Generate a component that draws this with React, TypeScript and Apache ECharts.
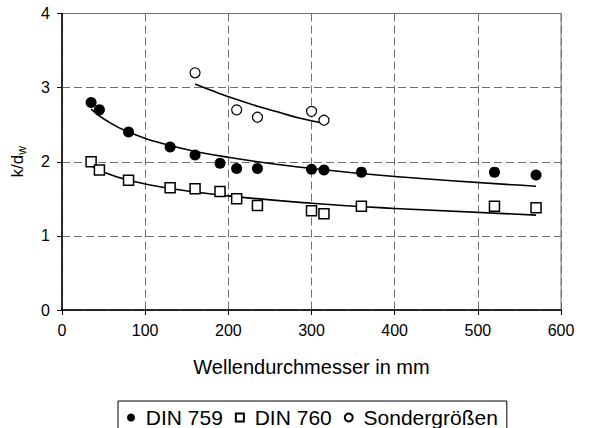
import React, { useEffect, useRef } from "react";
import * as echarts from "echarts";

// Measured points (diameter in mm -> k/d_w)
const din759X = [35, 45, 80, 130, 160, 190, 210, 235, 300, 315, 360, 520, 570];
const din759Y = [2.8, 2.7, 2.4, 2.2, 2.09, 1.98, 1.91, 1.91, 1.9, 1.89, 1.86, 1.86, 1.82];

const din760X = [35, 45, 80, 130, 160, 190, 210, 235, 300, 315, 360, 520, 570];
const din760Y = [2.0, 1.89, 1.75, 1.65, 1.635, 1.6, 1.5, 1.41, 1.34, 1.3, 1.4, 1.4, 1.38];

const sonderX = [160, 210, 235, 300, 315];
const sonderY = [3.2, 2.7, 2.6, 2.68, 2.56];

// Trend lines
const trend759X = [35, 50, 80, 130, 200, 300, 400, 570];
const trend759Y = [2.71, 2.58, 2.4, 2.22, 2.06, 1.91, 1.8, 1.67];

const trend760X = [35, 50, 80, 130, 200, 300, 400, 570];
const trend760Y = [1.95, 1.86, 1.75, 1.64, 1.54, 1.44, 1.37, 1.28];

const trendSonderX = [160, 185, 210, 235, 260, 285, 315];
const trendSonderY = [3.05, 2.94, 2.84, 2.75, 2.67, 2.59, 2.52];

const seriesNames = ["DIN 759", "DIN 760", "Sondergrößen"];
const xAxisTitle = "Wellendurchmesser in mm";

const zip = (xs: number[], ys: number[]) => xs.map((x, i) => [x, ys[i]]);

const FONT = "Liberation Sans, Arial, sans-serif";

export default function App() {
  const ref = useRef<HTMLDivElement>(null);
  useEffect(() => {
    if (!ref.current) return;
    const chart = echarts.init(ref.current, undefined, { renderer: "svg" });
    const gridColor = "#707070";
    const trendStyle = { color: "#000", width: 1.6 };
    chart.setOption({
      animation: false,
      backgroundColor: "#ffffff",
      textStyle: { fontFamily: FONT },
      grid: {
        left: 61,
        right: 28,
        top: 13.5,
        bottom: 118,
        show: true,
        borderColor: gridColor,
        borderWidth: 1,
      },
      legend: {
        data: seriesNames,
        left: 118,
        top: 401,
        orient: "horizontal",
        borderColor: "#000",
        borderWidth: 1,
        padding: [6, 9, 4, 9],
        itemWidth: 8,
        itemHeight: 8,
        itemGap: 12,
        formatter: (n: string) => " " + n,
        textStyle: { fontFamily: FONT, fontSize: 21, color: "#000" },
      },
      xAxis: {
        type: "value",
        min: 0,
        max: 600,
        interval: 100,
        name: xAxisTitle,
        nameLocation: "middle",
        nameGap: 47,
        nameTextStyle: { fontFamily: FONT, fontSize: 20, color: "#000" },
        axisLine: { lineStyle: { color: "#000", width: 1.5 } },
        axisTick: { show: true, inside: false, length: 5, lineStyle: { color: "#000" } },
        axisLabel: { fontFamily: FONT, fontSize: 16, color: "#000", margin: 12 },
        splitLine: { show: true, lineStyle: { color: gridColor, type: [8, 4], width: 1 } },
      },
      yAxis: {
        type: "value",
        min: 0,
        max: 4,
        interval: 1,
        name: "{a|k/d}{b|w}",
        nameLocation: "middle",
        nameRotate: 90,
        nameGap: 34,
        nameTextStyle: {
          color: "#000",
          rich: {
            a: { fontFamily: FONT, fontSize: 17, color: "#000", lineHeight: 22 },
            b: { fontFamily: FONT, fontSize: 12, color: "#000", lineHeight: 22, verticalAlign: "bottom", padding: [8, 0, 0, 0] },
          },
        },
        axisLine: { show: true, lineStyle: { color: "#000", width: 1.5 } },
        axisTick: { show: true, inside: false, length: 5, lineStyle: { color: "#000" } },
        axisLabel: { fontFamily: FONT, fontSize: 16, color: "#000", margin: 12 },
        splitLine: { show: true, lineStyle: { color: gridColor, type: [8, 4], width: 1 } },
      },
      series: [
        {
          name: "trend759",
          type: "line",
          data: zip(trend759X, trend759Y),
          smooth: true,
          showSymbol: false,
          lineStyle: trendStyle,
          z: 2,
        },
        {
          name: "trend760",
          type: "line",
          data: zip(trend760X, trend760Y),
          smooth: true,
          showSymbol: false,
          lineStyle: trendStyle,
          z: 2,
        },
        {
          name: "trendSonder",
          type: "line",
          data: zip(trendSonderX, trendSonderY),
          smooth: true,
          showSymbol: false,
          lineStyle: trendStyle,
          z: 2,
        },
        {
          name: seriesNames[0],
          type: "scatter",
          data: zip(din759X, din759Y),
          symbol: "circle",
          symbolSize: 11,
          itemStyle: { color: "#000", borderColor: "#000", borderWidth: 0, opacity: 1 },
          z: 3,
        },
        {
          name: seriesNames[1],
          type: "scatter",
          data: zip(din760X, din760Y),
          symbol: "rect",
          symbolSize: 10,
          itemStyle: { color: "#fff", borderColor: "#000", borderWidth: 1.5, opacity: 1 },
          z: 3,
        },
        {
          name: seriesNames[2],
          type: "scatter",
          data: zip(sonderX, sonderY),
          symbol: "circle",
          symbolSize: 10,
          itemStyle: { color: "#fff", borderColor: "#000", borderWidth: 1.2, opacity: 1 },
          z: 3,
        },
      ],
    });
    return () => chart.dispose();
  }, []);
  return (
    <div
      ref={ref}
      style={{ position: "fixed", left: 0, top: 0, width: 589, height: 428, background: "#fff" }}
    />
  );
}
